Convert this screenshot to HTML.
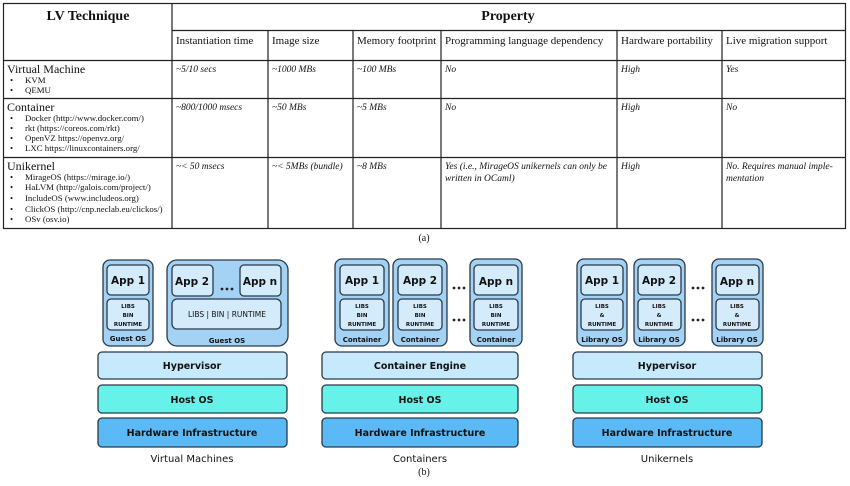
<!DOCTYPE html>
<html><head><meta charset="utf-8"><style>
html,body{margin:0;padding:0;background:#fff;}
svg{display:block;}
.s{font-family:"Liberation Serif",serif;fill:#111;}
.i{font-style:italic;}
.b{font-family:"DejaVu Sans","Liberation Sans",sans-serif;font-weight:bold;fill:#111;}
</style></head><body>
<svg width="850" height="486" viewBox="0 0 850 486" xmlns="http://www.w3.org/2000/svg">
<g stroke="#222" stroke-width="1.2" fill="none">
<rect x="3.5" y="3.5" width="842" height="225"/>
<line x1="172" y1="3" x2="172" y2="228"/>
<line x1="172" y1="30.5" x2="845" y2="30.5"/>
<line x1="3" y1="60.5" x2="845" y2="60.5"/>
<line x1="3" y1="98.5" x2="845" y2="98.5"/>
<line x1="3" y1="157.5" x2="845" y2="157.5"/>
<line x1="268" y1="30" x2="268" y2="228"/>
<line x1="353" y1="30" x2="353" y2="228"/>
<line x1="441" y1="30" x2="441" y2="228"/>
<line x1="617" y1="30" x2="617" y2="228"/>
<line x1="722" y1="30" x2="722" y2="228"/>
</g>
<g class="s">
<text x="88" y="20" font-size="14" font-weight="bold" text-anchor="middle">LV Technique</text>
<text x="508" y="20" font-size="14" font-weight="bold" text-anchor="middle">Property</text>
<g font-size="11">
<text x="176" y="44">Instantiation time</text>
<text x="272" y="44">Image size</text>
<text x="357" y="44">Memory footprint</text>
<text x="445" y="44">Programming language dependency</text>
<text x="621" y="44">Hardware portability</text>
<text x="726" y="44">Live migration support</text>
</g>
<g font-size="12">
<text x="7" y="73">Virtual Machine</text>
<text x="7" y="111">Container</text>
<text x="7" y="170">Unikernel</text>
</g>
<g font-size="8.8">
<text x="10" y="83">•</text><text x="25" y="83">KVM</text>
<text x="10" y="93">•</text><text x="25" y="93">QEMU</text>
<text x="10" y="121">•</text><text x="25" y="121">Docker (http://www.docker.com/)</text>
<text x="10" y="131">•</text><text x="25" y="131">rkt (https://coreos.com/rkt)</text>
<text x="10" y="141">•</text><text x="25" y="141">OpenVZ https://openvz.org/</text>
<text x="10" y="151">•</text><text x="25" y="151">LXC https://linuxcontainers.org/</text>
<text x="10" y="180">•</text><text x="25" y="180">MirageOS (https://mirage.io/)</text>
<text x="10" y="190">•</text><text x="25" y="190">HaLVM (http://galois.com/project/)</text>
<text x="10" y="201">•</text><text x="25" y="201">IncludeOS (www.includeos.org)</text>
<text x="10" y="212">•</text><text x="25" y="212">ClickOS (http://cnp.neclab.eu/clickos/)</text>
<text x="10" y="222">•</text><text x="25" y="222">OSv (osv.io)</text>
</g>
<g font-size="9.5" class="i">
<text x="176" y="72" class="i">~5/10 secs</text>
<text x="272" y="72" class="i">~1000 MBs</text>
<text x="357" y="72" class="i">~100 MBs</text>
<text x="445" y="72" class="i">No</text>
<text x="621" y="72" class="i">High</text>
<text x="726" y="72" class="i">Yes</text>
<text x="176" y="110" class="i">~800/1000 msecs</text>
<text x="272" y="110" class="i">~50 MBs</text>
<text x="357" y="110" class="i">~5 MBs</text>
<text x="445" y="110" class="i">No</text>
<text x="621" y="110" class="i">High</text>
<text x="726" y="110" class="i">No</text>
<text x="176" y="169" class="i">~&lt; 50 msecs</text>
<text x="272" y="169" class="i">~&lt; 5MBs (bundle)</text>
<text x="357" y="169" class="i">~8 MBs</text>
<text x="445" y="169" class="i">Yes (i.e., MirageOS unikernels can only be</text>
<text x="445" y="181" class="i">written in OCaml)</text>
<text x="621" y="169" class="i">High</text>
<text x="726" y="169" class="i">No. Requires manual imple-</text>
<text x="726" y="181" class="i">mentation</text>
</g>
<text x="424" y="241" font-size="10" text-anchor="middle">(a)</text>
<text x="424" y="475" font-size="10" text-anchor="middle">(b)</text>
</g>

<g stroke="#2a3a4a" stroke-width="1.3">
<rect x="103" y="260" width="50" height="86" rx="7" fill="#a4d2f4"/>
<rect x="107" y="265" width="42" height="30" rx="4" fill="#d4ebfb"/>
<rect x="107" y="299" width="42" height="31" rx="4" fill="#d4ebfb"/>
<rect x="167" y="260" width="121" height="86" rx="10" fill="#a4d2f4"/>
<rect x="172" y="265" width="41" height="31" rx="4" fill="#d4ebfb"/>
<rect x="240" y="265" width="41" height="31" rx="4" fill="#d4ebfb"/>
<rect x="172" y="299" width="109" height="30" rx="5" fill="#d4ebfb"/>
<rect x="98" y="352" width="189" height="27" rx="4" fill="#c6e9fb"/>
<rect x="98" y="385" width="189" height="28" rx="4" fill="#66f2e8"/>
<rect x="98" y="418" width="189" height="29" rx="4" fill="#5bbaf5"/>
<rect x="335" y="259" width="54" height="87" rx="7" fill="#a4d2f4"/>
<rect x="340" y="265" width="44" height="30" rx="4" fill="#d4ebfb"/>
<rect x="340" y="299" width="44" height="31" rx="4" fill="#d4ebfb"/>
<rect x="393" y="259" width="54" height="87" rx="7" fill="#a4d2f4"/>
<rect x="398" y="265" width="44" height="30" rx="4" fill="#d4ebfb"/>
<rect x="398" y="299" width="44" height="31" rx="4" fill="#d4ebfb"/>
<rect x="470" y="259" width="52" height="87" rx="7" fill="#a4d2f4"/>
<rect x="474" y="265" width="44" height="30" rx="4" fill="#d4ebfb"/>
<rect x="474" y="299" width="44" height="31" rx="4" fill="#d4ebfb"/>
<rect x="322" y="352" width="196" height="27" rx="4" fill="#c6e9fb"/>
<rect x="322" y="385" width="196" height="28" rx="4" fill="#66f2e8"/>
<rect x="322" y="418" width="196" height="29" rx="4" fill="#5bbaf5"/>
<rect x="577" y="259" width="50" height="87" rx="7" fill="#a4d2f4"/>
<rect x="581" y="265" width="42" height="30" rx="4" fill="#d4ebfb"/>
<rect x="581" y="299" width="42" height="31" rx="4" fill="#d4ebfb"/>
<rect x="634" y="259" width="51" height="87" rx="7" fill="#a4d2f4"/>
<rect x="638" y="265" width="43" height="30" rx="4" fill="#d4ebfb"/>
<rect x="638" y="299" width="43" height="31" rx="4" fill="#d4ebfb"/>
<rect x="712" y="259" width="51" height="87" rx="7" fill="#a4d2f4"/>
<rect x="716" y="265" width="43" height="30" rx="4" fill="#d4ebfb"/>
<rect x="716" y="299" width="43" height="31" rx="4" fill="#d4ebfb"/>
<rect x="573" y="352" width="189" height="27" rx="4" fill="#c6e9fb"/>
<rect x="573" y="385" width="189" height="28" rx="4" fill="#66f2e8"/>
<rect x="573" y="418" width="189" height="29" rx="4" fill="#5bbaf5"/>
</g>
<g fill="#222">
<circle cx="222" cy="289" r="1.4"/><circle cx="227" cy="289" r="1.4"/><circle cx="232" cy="289" r="1.4"/>
<circle cx="454" cy="288" r="1.4"/><circle cx="459" cy="288" r="1.4"/><circle cx="464" cy="288" r="1.4"/>
<circle cx="454" cy="320" r="1.4"/><circle cx="459" cy="320" r="1.4"/><circle cx="464" cy="320" r="1.4"/>
<circle cx="693" cy="288" r="1.4"/><circle cx="698" cy="288" r="1.4"/><circle cx="703" cy="288" r="1.4"/>
<circle cx="693" cy="320" r="1.4"/><circle cx="698" cy="320" r="1.4"/><circle cx="703" cy="320" r="1.4"/>
</g>
<g class="b" text-anchor="middle">
<g font-size="10.5">
<text x="128" y="284">App 1</text><text x="192" y="285">App 2</text><text x="260" y="285">App n</text>
<text x="362" y="284">App 1</text><text x="420" y="284">App 2</text><text x="496" y="285">App n</text>
<text x="602" y="284">App 1</text><text x="659" y="284">App 2</text><text x="737" y="285">App n</text>
</g>
<g font-size="5.5">
<text x="128" y="308">LIBS</text><text x="128" y="317">BIN</text><text x="128" y="326">RUNTIME</text>
<text x="362" y="308">LIBS</text><text x="362" y="317">BIN</text><text x="362" y="326">RUNTIME</text>
<text x="420" y="308">LIBS</text><text x="420" y="317">BIN</text><text x="420" y="326">RUNTIME</text>
<text x="496" y="308">LIBS</text><text x="496" y="317">BIN</text><text x="496" y="326">RUNTIME</text>
<text x="602" y="308">LIBS</text><text x="602" y="317">&amp;</text><text x="602" y="326">RUNTIME</text>
<text x="659" y="308">LIBS</text><text x="659" y="317">&amp;</text><text x="659" y="326">RUNTIME</text>
<text x="737" y="308">LIBS</text><text x="737" y="317">&amp;</text><text x="737" y="326">RUNTIME</text>
</g>
<text x="227" y="317" font-size="7.5" font-weight="normal">LIBS | BIN | RUNTIME</text>
<g font-size="7">
<text x="128" y="341">Guest OS</text><text x="227" y="343">Guest OS</text>
<text x="362" y="342">Container</text><text x="420" y="342">Container</text><text x="496" y="342">Container</text>
<text x="602" y="342">Library OS</text><text x="659" y="342">Library OS</text><text x="737" y="342">Library OS</text>
</g>
<g font-size="9.5">
<text x="192" y="369">Hypervisor</text><text x="192" y="403">Host OS</text><text x="192" y="436">Hardware Infrastructure</text>
<text x="420" y="369">Container Engine</text><text x="420" y="403">Host OS</text><text x="420" y="436">Hardware Infrastructure</text>
<text x="667" y="369">Hypervisor</text><text x="667" y="403">Host OS</text><text x="667" y="436">Hardware Infrastructure</text>
</g>
<g font-size="10" font-weight="normal">
<text x="192" y="462">Virtual Machines</text>
<text x="420" y="462">Containers</text>
<text x="667" y="462">Unikernels</text>
</g>
</g>
</svg>
</body></html>
